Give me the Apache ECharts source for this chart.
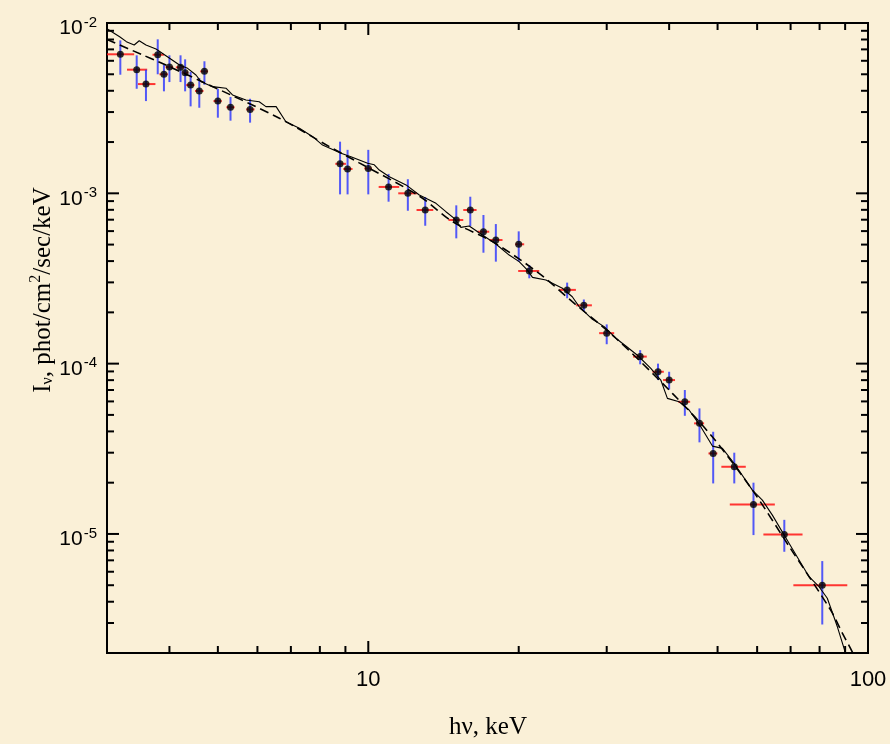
<!DOCTYPE html>
<html>
<head>
<meta charset="utf-8">
<script src="https://cdn.jsdelivr.net/npm/echarts@6/dist/echarts.min.js"></script>
<style>
html,body{margin:0;padding:0;background:#faf0d7;}
#chart{width:890px;height:744px;}
</style>
</head>
<body>
<div id="chart"></div>
<script>
// ---------- data ----------
const energy = [3.19, 3.44, 3.59, 3.79, 3.90, 4.00, 4.21, 4.30, 4.41, 4.59, 4.70, 5.00, 5.30, 5.80, 8.78, 9.09, 10.0, 10.98, 12.0, 13.0, 15.0, 16.0, 17.0, 18.0, 20.0, 21.0, 25.0, 27.0, 30.0, 35.0, 38.0, 40.0, 43.0, 46.0, 49.0, 54.0, 59.0, 68.0, 81.0];
const energyLo = [3.0, 3.29, 3.46, 3.70, 3.82, 3.93, 4.12, 4.25, 4.32, 4.50, 4.61, 4.90, 5.20, 5.70, 8.59, 8.91, 9.82, 10.49, 11.48, 12.49, 14.47, 15.49, 16.54, 17.46, 19.68, 19.95, 24.10, 26.06, 28.97, 33.88, 37.03, 38.9, 41.7, 44.87, 47.94, 50.88, 52.9, 61.75, 70.9];
const energyHi = [3.40, 3.61, 3.75, 3.90, 3.97, 4.07, 4.28, 4.36, 4.49, 4.68, 4.78, 5.09, 5.40, 5.92, 9.02, 9.30, 10.17, 11.53, 12.51, 13.49, 15.49, 16.47, 17.46, 18.56, 20.51, 21.98, 26.03, 28.02, 31.05, 36.08, 39.03, 41.1, 44.06, 46.99, 49.95, 56.94, 65.1, 73.96, 90.9];
const flux = [6.55e-3, 5.32e-3, 4.38e-3, 6.51e-3, 5.0e-3, 5.51e-3, 5.49e-3, 5.11e-3, 4.32e-3, 3.99e-3, 5.20e-3, 3.48e-3, 3.20e-3, 3.11e-3, 1.49e-3, 1.39e-3, 1.40e-3, 1.09e-3, 1.00e-3, 7.98e-4, 6.97e-4, 7.98e-4, 5.95e-4, 5.32e-4, 5.02e-4, 3.50e-4, 2.71e-4, 2.20e-4, 1.51e-4, 1.10e-4, 8.96e-5, 8.01e-5, 5.97e-5, 4.46e-5, 2.97e-5, 2.48e-5, 1.49e-5, 9.92e-6, 4.99e-6];
const fluxLo = [4.97e-3, 4.11e-3, 3.48e-3, 5.0e-3, 3.97e-3, 4.50e-3, 4.50e-3, 3.97e-3, 3.24e-3, 3.18e-3, 4.34e-3, 2.78e-3, 2.67e-3, 2.60e-3, 9.86e-4, 9.86e-4, 9.86e-4, 8.93e-4, 7.90e-4, 6.45e-4, 5.44e-4, 6.43e-4, 4.48e-4, 3.97e-4, 3.97e-4, 3.17e-4, 2.42e-4, 2.02e-4, 1.30e-4, 9.91e-5, 8.01e-5, 7.06e-5, 4.94e-5, 3.45e-5, 1.98e-5, 1.98e-5, 9.85e-6, 7.86e-6, 2.94e-6];
const fluxHi = [7.91e-3, 6.46e-3, 5.32e-3, 8.02e-3, 5.69e-3, 6.46e-3, 6.46e-3, 6.12e-3, 5.16e-3, 4.75e-3, 5.96e-3, 4.11e-3, 3.68e-3, 3.59e-3, 2.01e-3, 1.80e-3, 1.80e-3, 1.30e-3, 1.21e-3, 9.51e-4, 8.50e-4, 9.55e-4, 7.46e-4, 6.60e-4, 5.98e-4, 3.79e-4, 2.99e-4, 2.38e-4, 1.70e-4, 1.20e-4, 1.00e-4, 8.96e-5, 7.00e-5, 5.46e-5, 3.98e-5, 3.00e-5, 2.0e-5, 1.21e-5, 6.93e-6];

// solid model curve
const solidE = [3.01, 3.18, 3.28, 3.40, 3.48, 3.59, 3.76, 4.19, 4.35, 4.52, 4.63, 4.88, 5.19, 5.35, 5.69, 6.05, 6.24, 6.54, 6.84, 7.28, 7.74, 8.10, 8.82, 9.23, 9.97, 10.28, 10.52, 11.02, 11.90, 12.65, 13.66, 14.30, 14.86, 15.32, 15.92, 16.92, 18.0, 19.14, 20.04, 20.82, 21.31, 22.67, 24.46, 25.6, 26.42, 28.09, 29.65, 31.29, 32.76, 34.56, 36.76, 38.49, 39.68, 41.88, 43.85, 46.28, 48.83, 51.13, 53.95, 58.7, 61.46, 64.36, 69.5, 76.21, 79.8, 82.9, 86.84, 89.55, 91.0];
const solidF = [9.18e-3, 8.31e-3, 7.77e-3, 7.43e-3, 7.87e-3, 7.43e-3, 7.04e-3, 5.67e-3, 5.42e-3, 4.95e-3, 4.52e-3, 4.23e-3, 4.14e-3, 3.78e-3, 3.53e-3, 3.45e-3, 3.23e-3, 3.23e-3, 2.63e-3, 2.41e-3, 2.15e-3, 1.92e-3, 1.72e-3, 1.64e-3, 1.50e-3, 1.47e-3, 1.37e-3, 1.25e-3, 1.12e-3, 9.77e-4, 8.73e-4, 7.80e-4, 7.13e-4, 6.31e-4, 6.43e-4, 5.69e-4, 5.04e-4, 4.34e-4, 3.97e-4, 3.54e-4, 3.21e-4, 3.10e-4, 2.77e-4, 2.47e-4, 2.16e-4, 1.82e-4, 1.65e-4, 1.41e-4, 1.27e-4, 1.12e-4, 9.38e-5, 8.01e-5, 6.25e-5, 5.97e-5, 5.34e-5, 4.26e-5, 3.28e-5, 3.18e-5, 2.60e-5, 1.81e-5, 1.58e-5, 1.29e-5, 8.81e-6, 5.61e-6, 4.90e-6, 4.19e-6, 2.85e-6, 2.13e-6, 1.8e-6];

// dashed model curve
const dashE = [3.0, 3.55, 3.8, 4.7, 6.64, 8.36, 9.59, 12.65, 14.75, 17.73, 21.97, 25.6, 31.3, 40.6, 48.8, 58.7, 69.6, 84.2, 88.9, 93.0, 94.5];
const dashF = [8.0e-3, 6.46e-3, 5.93e-3, 4.46e-3, 2.76e-3, 1.88e-3, 1.51e-3, 9.64e-4, 6.81e-4, 5.2e-4, 3.39e-4, 2.31e-4, 1.41e-4, 6.69e-5, 3.72e-5, 1.81e-5, 8.41e-6, 3.57e-6, 2.61e-6, 2.03e-6, 1.8e-6];

// axis ranges and tick values
const X_MIN = 3, X_MAX = 100;
const Y_MIN = 2e-6, Y_MAX = 1e-2;
const xMajorTicks = [10, 100];
const xMinorTicks = [3, 4, 5, 6, 7, 8, 9, 20, 30, 40, 50, 60, 70, 80, 90];
const yMajorTicks = [1e-5, 1e-4, 1e-3, 1e-2];
const yMinorTicks = [3e-6, 4e-6, 5e-6, 6e-6, 7e-6, 8e-6, 9e-6,
  2e-5, 3e-5, 4e-5, 5e-5, 6e-5, 7e-5, 8e-5, 9e-5,
  2e-4, 3e-4, 4e-4, 5e-4, 6e-4, 7e-4, 8e-4, 9e-4,
  2e-3, 3e-3, 4e-3, 5e-3, 6e-3, 7e-3, 8e-3, 9e-3];

// ---------- build ----------
const chart = echarts.init(document.getElementById('chart'), null, {renderer: 'canvas'});

const pointData = energy.map((e, i) => [e, flux[i]]);
const errData = energy.map((e, i) => [e, flux[i], energyLo[i], energyHi[i], fluxLo[i], fluxHi[i]]);
const solidData = solidE.map((e, i) => [e, solidF[i]]);
const dashData = dashE.map((e, i) => [e, dashF[i]]);

const tickData = [];
xMajorTicks.forEach(v => tickData.push([v, Y_MIN, 1, 0]));
xMinorTicks.forEach(v => tickData.push([v, Y_MIN, 0, 0]));
yMajorTicks.forEach(v => tickData.push([X_MIN, v, 1, 1]));
yMinorTicks.forEach(v => tickData.push([X_MIN, v, 0, 1]));

function isPow10(v) {
  const e = Math.log10(v);
  return Math.abs(e - Math.round(e)) < 1e-6;
}

const tickStyle = {stroke: '#000', lineWidth: 2};
const SANS = 'Liberation Sans, Arial, sans-serif';
const SERIF = 'Liberation Serif, Times New Roman, serif';

const option = {
  backgroundColor: '#faf0d7',
  animation: false,
  grid: {left: 107, right: 22, top: 23, bottom: 91, show: true, borderColor: '#000', borderWidth: 2, backgroundColor: 'transparent'},
  xAxis: {
    type: 'log', logBase: 10, min: X_MIN, max: X_MAX,
    axisLine: {show: false}, axisTick: {show: false}, splitLine: {show: false}, minorTick: {show: false},
    axisLabel: {
      margin: 16, color: '#000', fontFamily: SANS, fontSize: 22,
      showMinLabel: true, showMaxLabel: true,
      formatter: v => isPow10(v) ? String(Math.round(v)) : ''
    }
  },
  yAxis: {
    type: 'log', logBase: 10, min: Y_MIN, max: Y_MAX,
    axisLine: {show: false}, axisTick: {show: false}, splitLine: {show: false}, minorTick: {show: false},
    axisLabel: {
      margin: 10, color: '#000', fontFamily: SANS,
      showMinLabel: true, showMaxLabel: true,
      padding: [8, 0, 0, 0],
      formatter: v => isPow10(v) ? '{b|10}{s|' + Math.round(Math.log10(v)) + '}' : '',
      rich: {
        b: {fontSize: 21, lineHeight: 24, verticalAlign: 'bottom', color: '#000', fontFamily: SANS},
        s: {fontSize: 15, lineHeight: 6, verticalAlign: 'top', color: '#000', fontFamily: SANS, padding: [0, 0, 0, 1]}
      }
    }
  },
  graphic: [
    {
      type: 'text', x: 42, y: 290, rotation: Math.PI / 2, silent: true,
      style: {
        text: '{b|I}{sub|ν}{b|, phot/cm}{sup|2}{b|/sec/keV}',
        align: 'center', verticalAlign: 'middle',
        rich: {
          b: {fontSize: 25, lineHeight: 28, fontFamily: SERIF, fill: '#000', verticalAlign: 'bottom'},
          sub: {fontSize: 16, lineHeight: 12, fontFamily: SERIF, fill: '#000', verticalAlign: 'bottom'},
          sup: {fontSize: 16, lineHeight: 12, fontFamily: SERIF, fill: '#000', verticalAlign: 'top'}
        }
      }
    },
    {
      type: 'text', x: 488, y: 727, silent: true,
      style: {
        text: 'hν, keV', align: 'center', verticalAlign: 'middle',
        fontSize: 25, fontFamily: SERIF, fill: '#000'
      }
    }
  ],
  series: [
    {
      type: 'custom', coordinateSystem: 'cartesian2d', z: 2, silent: true, clip: false,
      data: errData,
      renderItem: function (params, api) {
        const x = api.value(0), y = api.value(1);
        const l = api.coord([api.value(2), y]);
        const r = api.coord([api.value(3), y]);
        const lo = api.coord([x, api.value(4)]);
        const hi = api.coord([x, api.value(5)]);
        return {
          type: 'group',
          children: [
            {type: 'line', shape: {x1: l[0], y1: l[1], x2: r[0], y2: r[1]}, style: {stroke: 'rgba(255,20,20,0.85)', lineWidth: 2}},
            {type: 'line', shape: {x1: lo[0], y1: lo[1], x2: hi[0], y2: hi[1]}, style: {stroke: 'rgba(40,50,255,0.8)', lineWidth: 2}}
          ]
        };
      }
    },
    {
      type: 'line', data: solidData, z: 3, symbol: 'none', silent: true, clip: true,
      lineStyle: {color: '#000', width: 1.1}
    },
    {
      type: 'line', data: dashData, z: 3, symbol: 'none', silent: true, clip: true, smooth: 0.3,
      lineStyle: {color: '#000', width: 1.6, type: [9, 5]}
    },
    {
      type: 'scatter', data: pointData, z: 4, symbol: 'circle', symbolSize: 7, silent: true,
      itemStyle: {color: '#000'}
    },
    {
      type: 'custom', coordinateSystem: 'cartesian2d', z: 5, silent: true, clip: false,
      data: tickData,
      renderItem: function (params, api) {
        const v0 = api.value(0), v1 = api.value(1);
        const major = api.value(2) === 1;
        const isY = api.value(3) === 1;
        const len = major ? 12 : 7;
        if (!isY) {
          const b = api.coord([v0, Y_MIN]);
          const t = api.coord([v0, Y_MAX]);
          return {type: 'group', children: [
            {type: 'line', shape: {x1: b[0], y1: b[1], x2: b[0], y2: b[1] - len}, style: tickStyle},
            {type: 'line', shape: {x1: t[0], y1: t[1], x2: t[0], y2: t[1] + len}, style: tickStyle}
          ]};
        } else {
          const l = api.coord([X_MIN, v1]);
          const r = api.coord([X_MAX, v1]);
          return {type: 'group', children: [
            {type: 'line', shape: {x1: l[0], y1: l[1], x2: l[0] + len, y2: l[1]}, style: tickStyle},
            {type: 'line', shape: {x1: r[0], y1: r[1], x2: r[0] - len, y2: r[1]}, style: tickStyle}
          ]};
        }
      }
    }
  ]
};
chart.setOption(option);
</script>
</body>
</html>
